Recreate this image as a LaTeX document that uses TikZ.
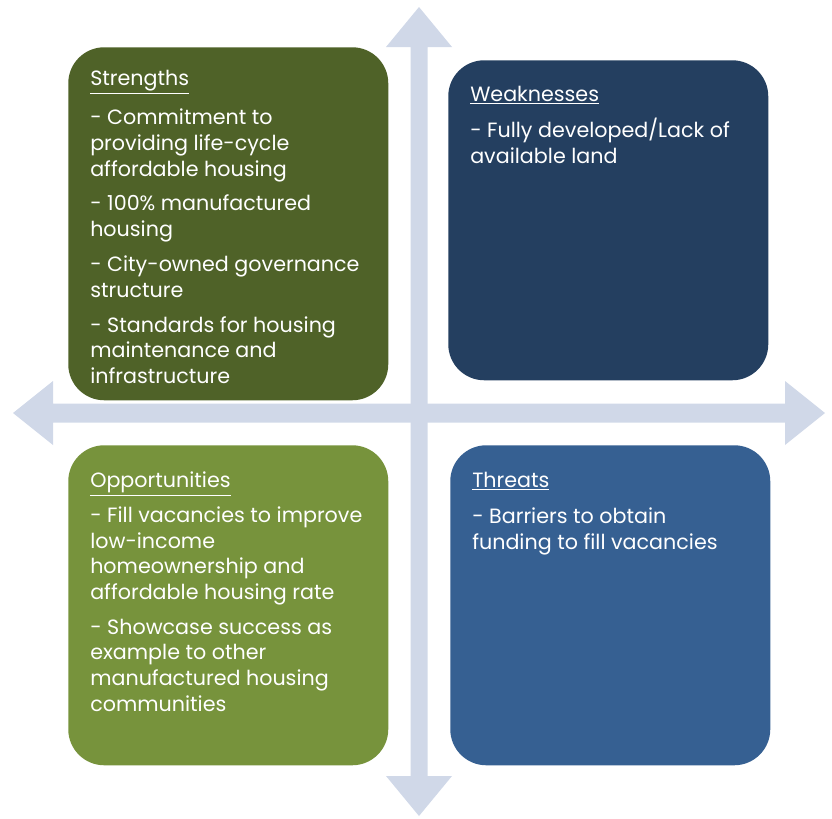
\documentclass[tikz,border=0pt]{standalone}
\usepackage{fontspec}
\setmainfont{Poppins}
\usepackage{tikz}
\usetikzlibrary{positioning}
\definecolor{strcol}{HTML}{4F6228}
\definecolor{weakcol}{HTML}{243F60}
\definecolor{oppcol}{HTML}{77933C}
\definecolor{thrcol}{HTML}{366092}
\definecolor{axiscol}{HTML}{D0D8E8}
\begin{document}
\begin{tikzpicture}[
    x=0.75pt, y=-0.75pt,
    quad/.style={rectangle, rounded corners=27pt, minimum width=240pt, minimum height=240pt, inner sep=0pt, anchor=north west},
    txt/.style={inner sep=0pt, align=left, text=white, font=\fontsize{15.5}{19.2}\selectfont},
    axis/.style={fill=axiscol}
]
    \useasboundingbox (0,0) rectangle (832,818);

    % Cross arrows
    \coordinate (c) at (419,413);
    \fill[axis] (419,7) -- (452,47) -- (427.5,47) -- (427.5,776) -- (452,776) -- (419,816)
        -- (386,776) -- (410.5,776) -- (410.5,47) -- (386,47) -- cycle;
    \fill[axis] (13,413) -- (53,381) -- (53,403.5) -- (785,403.5) -- (785,381) -- (825,413)
        -- (785,445) -- (785,422.5) -- (53,422.5) -- (53,445) -- cycle;

    % Quadrants
    \node[quad, fill=strcol, minimum height=264.75pt] (str) at (68,47) {};
    \node[quad, fill=weakcol] (weak) at (448,60) {};
    \node[quad, fill=oppcol] (opp) at (68,445) {};
    \node[quad, fill=thrcol] (thr) at (450,445) {};

    % Texts
    \node[txt, below right=17.5pt and 16.5pt of str.north west] (strtxt) {%
        \underline{Strengths}\\[10pt]
        - Commitment to\\
        providing life-cycle\\
        affordable housing\\[7pt]
        - 100\% manufactured\\
        housing\\[7pt]
        - City-owned governance\\
        structure\\[7pt]
        - Standards for housing\\
        maintenance and\\
        infrastructure};
    \node[txt, below right=19.5pt and 16.5pt of weak.north west] (weaktxt) {%
        \underline{Weaknesses}\\[8pt]
        - Fully developed/Lack of\\
        available land};
    \node[txt, below right=20pt and 16.5pt of opp.north west] (opptxt) {%
        \underline{Opportunities}\\[7pt]
        - Fill vacancies to improve\\
        low-income\\
        homeownership and\\
        affordable housing rate\\[7pt]
        - Showcase success as\\
        example to other\\
        manufactured housing\\
        communities};
    \node[txt, below right=20pt and 16.5pt of thr.north west] (thrtxt) {%
        \underline{Threats}\\[8pt]
        - Barriers to obtain\\
        funding to fill vacancies};
\end{tikzpicture}
\end{document}
